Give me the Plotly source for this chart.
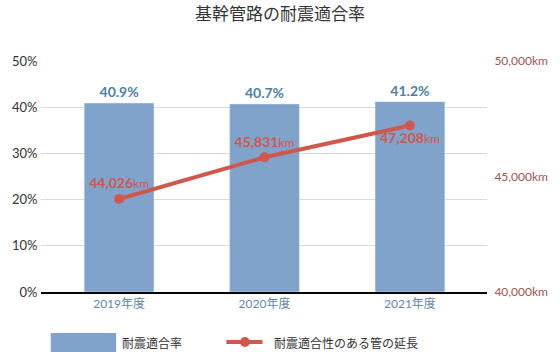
import plotly.graph_objects as go

categories = ["2019年度", "2020年度", "2021年度"]
rate = [40.9, 40.7, 41.2]
length_km = [44026, 45831, 47208]
rate_labels = ["40.9%", "40.7%", "41.2%"]
length_labels = ["44,026", "45,831", "47,208"]
label_pos = ["top center", "top center", "bottom center"]

W, H = 560, 352
L, R, T, B = 35, 68, 61, 60
PW, PH = W - L - R, H - T - B

def px(x):
    return (x - L) / PW

def py(y):
    return (H - B - y) / PH

BAR = "#7fa3cb"
LINE = "#d0574b"
FONT = "Lato, 'Noto Sans CJK JP', sans-serif"

fig = go.Figure()
fig.add_trace(go.Bar(
    x=categories, y=rate, marker_color=BAR, width=0.48,
    text=["<b>%s</b>" % t for t in rate_labels], textposition="outside",
    textfont=dict(color="#4f7ea6", size=14, family=FONT),
    cliponaxis=False, showlegend=False, hoverinfo="skip"))
fig.add_trace(go.Scatter(
    x=categories, y=length_km, yaxis="y2", mode="lines+markers+text",
    line=dict(color=LINE, width=4), marker=dict(color=LINE, size=10),
    text=["<b>%s</b><span style='font-size:12px;font-weight:normal'>km</span>" % t for t in length_labels],
    textposition=label_pos,
    textfont=dict(color=LINE, size=14, family=FONT),
    cliponaxis=False, showlegend=False, hoverinfo="skip"))

fig.update_layout(
    width=W, height=H, margin=dict(l=L, r=R, t=T, b=B),
    paper_bgcolor="white", plot_bgcolor="white",
    font=dict(family=FONT, size=12, color="#333"),
    title=dict(text="基幹管路の耐震適合率", x=0.5, xanchor="center", y=1 - 14 / H, yanchor="middle",
               font=dict(size=17, color="#333", family="'Noto Sans CJK JP', sans-serif")),
    bargap=0.5,
    xaxis=dict(showgrid=False, showline=True, linecolor="black", linewidth=1.5,
               tickfont=dict(color="#5f86a8", size=12), ticks="", range=[-0.537, 2.53]),
    yaxis=dict(range=[0, 50], dtick=10, ticksuffix="%", showgrid=True, gridcolor="#d9d9d9",
               zeroline=False, tickfont=dict(color="#333", size=13), ticks="outside",
               ticklen=0, tickcolor="white"),
    yaxis2=dict(overlaying="y", side="right", range=[40000, 50000], dtick=5000,
                tickformat=",d", ticksuffix="km", showgrid=False, zeroline=False,
                tickfont=dict(color="#a0554e", size=12), ticks="outside", ticklen=4,
                tickcolor="white"),
)

shapes = [
    dict(type="rect", xref="paper", yref="paper", x0=px(45), x1=px(112), y0=py(352), y1=py(333),
         fillcolor=BAR, line_width=0, layer="above"),
    dict(type="line", xref="paper", yref="paper", x0=px(225), x1=px(262), y0=py(342), y1=py(342),
         line=dict(color=LINE, width=4)),
    dict(type="circle", xref="paper", yref="paper", x0=px(239), x1=px(249), y0=py(347), y1=py(337),
         fillcolor=LINE, line_width=0),
]
fig.update_layout(shapes=shapes)
fig.add_annotation(text="耐震適合率", xref="paper", yref="paper", x=px(116), y=py(342),
                   xanchor="left", yanchor="middle", showarrow=False,
                   font=dict(size=12, color="#333", family="'Noto Sans CJK JP', sans-serif"))
fig.add_annotation(text="耐震適合性のある管の延長", xref="paper", yref="paper", x=px(272), y=py(342),
                   xanchor="left", yanchor="middle", showarrow=False,
                   font=dict(size=12, color="#333", family="'Noto Sans CJK JP', sans-serif"))

fig.write_html("out.html")
